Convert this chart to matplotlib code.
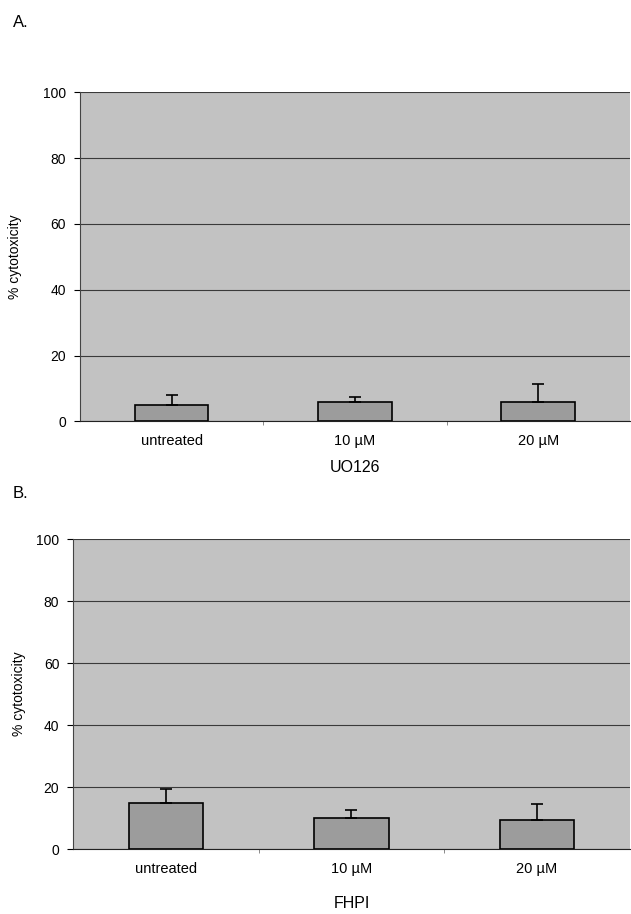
import numpy as np
import matplotlib
matplotlib.use('Agg')
import matplotlib.pyplot as plt

plt.rcParams['font.family'] = ['Liberation Sans', 'DejaVu Sans']

categories = ['untreated', '10 \u00b5M', '20 \u00b5M']
uo126_mean = [5, 6, 6]
uo126_err = [3, 1.5, 5.5]
fhpi_mean = [15, 10, 9.5]
fhpi_err = [4.5, 2.5, 5]
yticks = [0, 20, 40, 60, 80, 100]

fig = plt.figure(figsize=(6.31, 9.14), dpi=100)

def panel(rect, means, errs, xlabel, xpad):
    ax = fig.add_axes(rect)
    x = np.arange(len(categories))
    ax.set_facecolor('#c2c2c2')
    ax.bar(x, means, width=0.4, color='#9c9c9c', edgecolor='black', linewidth=1.2, zorder=3)
    ax.errorbar(x, means, yerr=[np.zeros(len(errs)), errs], fmt='none',
                ecolor='black', elinewidth=1.2, capsize=4, capthick=1.2, zorder=4)
    ax.set_xlim(-0.5, 2.5)
    ax.set_ylim(0, 100)
    ax.set_yticks(yticks)
    ax.set_yticklabels([str(t) for t in yticks], fontsize=10)
    ax.yaxis.grid(True, color='#3a3a3a', linewidth=0.8, zorder=1)
    ax.set_axisbelow(True)
    ax.set_xticks(x)
    ax.set_xticklabels(categories, fontsize=10.5)
    ax.tick_params(axis='x', length=0, pad=9)
    ax.set_xticks([0.5, 1.5], minor=True)
    ax.tick_params(axis='x', which='minor', length=3, color='#777777')
    ax.tick_params(axis='y', length=4, pad=6)
    for s in ['top', 'right']:
        ax.spines[s].set_visible(False)
    ax.spines['left'].set_color('#444444')
    ax.spines['bottom'].set_color('#222222')
    ax.set_ylabel('% cytotoxicity', fontsize=10, labelpad=12)
    ax.set_xlabel(xlabel, fontsize=11.5, labelpad=xpad)
    return ax

axA = panel([0.127, 0.539, 0.871, 0.360], uo126_mean, uo126_err, 'UO126', 9)
axB = panel([0.116, 0.071, 0.882, 0.339], fhpi_mean, fhpi_err, 'FHPI', 15)
axA.yaxis.set_label_coords(-0.105, 0.5)
axB.yaxis.set_label_coords(-0.085, 0.5)

fig.text(0.02, 0.975, 'A.', fontsize=12, va='center')
fig.text(0.02, 0.46, 'B.', fontsize=12, va='center')

fig.savefig('out.png', dpi=100)
